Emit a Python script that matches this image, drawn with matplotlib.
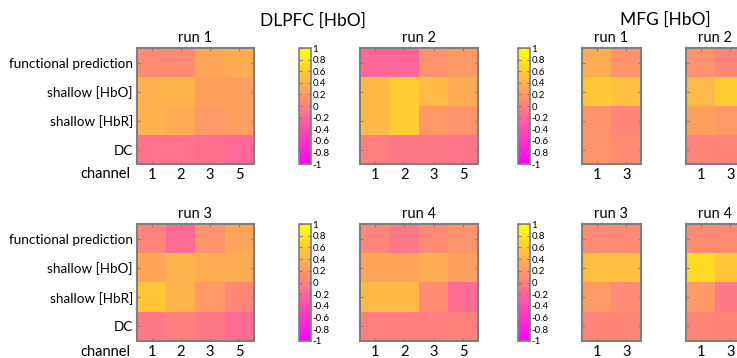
import matplotlib.pyplot as plt
import numpy as np

plt.rcParams['font.family'] = ['Lato', 'DejaVu Sans']
plt.rcParams['axes.unicode_minus'] = False

# regressori (righe) e canali
regressors = ['functional prediction', 'shallow [HbO]', 'shallow [HbR]', 'DC']
ch_dlpfc = ['1', '2', '3', '5']
ch_mfg = ['1', '3']

# valori (correlazioni, -1..1)
dlpfc_run1 = [[0.10, 0.10, 0.30, 0.35],
              [0.40, 0.40, 0.25, 0.25],
              [0.40, 0.35, 0.20, 0.25],
              [-0.10, -0.10, -0.12, -0.18]]
dlpfc_run2 = [[-0.20, -0.20, 0.15, 0.20],
              [0.45, 0.60, 0.45, 0.35],
              [0.45, 0.60, 0.20, 0.15],
              [0.00, -0.05, -0.05, -0.08]]
dlpfc_run3 = [[0.05, -0.15, 0.15, 0.30],
              [0.30, 0.40, 0.35, 0.35],
              [0.55, 0.40, 0.20, 0.05],
              [-0.05, 0.00, -0.05, -0.15]]
dlpfc_run4 = [[0.05, -0.05, 0.10, 0.15],
              [0.30, 0.30, 0.35, 0.25],
              [0.45, 0.45, 0.10, -0.15],
              [0.00, 0.00, 0.00, 0.02]]
mfg_run1 = [[0.35, 0.15], [0.55, 0.50], [0.15, 0.05], [0.15, 0.10]]
mfg_run2 = [[0.15, 0.05], [0.45, 0.60], [0.25, 0.20], [0.05, 0.05]]
mfg_run3 = [[0.10, 0.10], [0.50, 0.50], [0.20, 0.10], [0.05, 0.05]]
mfg_run4 = [[0.10, 0.10], [0.70, 0.55], [0.20, -0.05], [0.05, 0.05]]

cb_ticks = [1, 0.8, 0.6, 0.4, 0.2, 0, -0.2, -0.4, -0.6, -0.8, -1]
cb_labels = ['1', '0.8', '0.6', '0.4', '0.2', '0', '-0.2', '-0.4', '-0.6', '-0.8', '-1']

W, H = 737, 358
fig = plt.figure(figsize=(W / 100, H / 100), dpi=100)

def px(x0, y0, x1, y1):
    return [x0 / W, 1 - y1 / H, (x1 - x0) / W, (y1 - y0) / H]

edge = '#7f7f7f'

def heat(rect, data, chans, title, left=False):
    ax = fig.add_axes(rect)
    im = ax.imshow(np.array(data), cmap='spring', vmin=-1, vmax=1, aspect='auto')
    ax.set_title(title, fontsize=10.5, pad=4)
    ax.set_xticks(range(len(chans)))
    ax.set_xticklabels(chans, fontsize=10.5)
    ax.set_yticks(range(len(regressors)))
    if left:
        ax.set_yticklabels(regressors, fontsize=9.7)
        ax.text(-0.06, -0.03, 'channel', transform=ax.transAxes, ha='right', va='top', fontsize=10.5)
    else:
        ax.set_yticklabels([])
    ax.tick_params(direction='in', length=2.5, color=edge, top=True, right=True, pad=3)
    for s in ax.spines.values():
        s.set_color(edge)
        s.set_linewidth(1.5)
    return im

def cbar(rect, im):
    cax = fig.add_axes(rect)
    cb = fig.colorbar(im, cax=cax)
    cb.set_ticks(cb_ticks)
    cb.set_ticklabels(cb_labels)
    cax.tick_params(direction='in', length=2, color=edge, labelsize=7, pad=1, left=True)
    cb.outline.set_edgecolor(edge)
    cb.outline.set_linewidth(1.2)

im = heat(px(137, 48, 254, 164), dlpfc_run1, ch_dlpfc, 'run 1', left=True)
cbar(px(299, 48, 311, 164), im)
im = heat(px(360, 48, 478, 164), dlpfc_run2, ch_dlpfc, 'run 2')
cbar(px(518, 48, 530, 164), im)
heat(px(582, 48, 641, 164), mfg_run1, ch_mfg, 'run 1')
heat(px(686, 48, 745, 164), mfg_run2, ch_mfg, 'run 2')

im = heat(px(137, 224, 254, 341), dlpfc_run3, ch_dlpfc, 'run 3', left=True)
cbar(px(299, 224, 311, 341), im)
im = heat(px(360, 224, 478, 341), dlpfc_run4, ch_dlpfc, 'run 4')
cbar(px(518, 224, 530, 341), im)
heat(px(582, 224, 641, 341), mfg_run3, ch_mfg, 'run 3')
heat(px(686, 224, 745, 341), mfg_run4, ch_mfg, 'run 4')

fig.text(313 / W, 1 - 21 / H, 'DLPFC [HbO]', ha='center', va='center', fontsize=12.5)
fig.text(665 / W, 1 - 20 / H, 'MFG [HbO]', ha='center', va='center', fontsize=12.5)

plt.savefig('out.png', dpi=100)
